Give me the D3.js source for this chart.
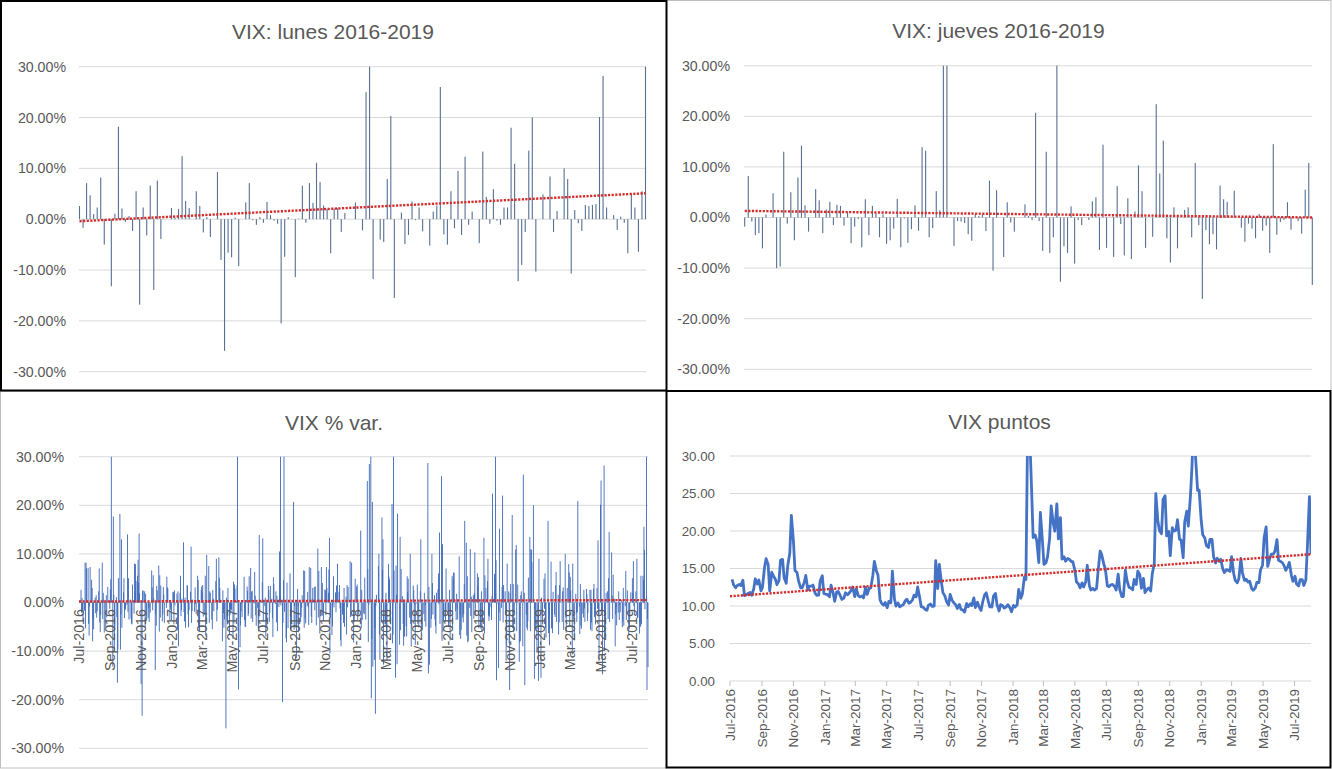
<!DOCTYPE html>
<html><head><meta charset="utf-8">
<script src="https://cdn.jsdelivr.net/npm/d3@7/dist/d3.min.js"></script>
<style>
body{margin:0;background:#fff}
svg{display:block}
text{font-family:"Liberation Sans",Arial,sans-serif;fill:#595959}
</style>
</head><body>
<svg id="c" width="1332" height="769"></svg>
<script>
// ---------------- DATA ----------------
// categories: weeks starting Monday 11-Jul-2016 (161 weeks, to Monday 05-Aug-2019)
const firstMonday = new Date(2016, 6, 11);
const nWeeks = 161;
const axisStart = new Date(2016, 6, 7);
const axisEnd = new Date(2019, 7, 8);

// daily % change of VIX, per weekday (percent units), index = week
const pctMon = [
 2.6,-1.7,7.1,4.7,1.0,2.3,8.2,-5.0,0.0,-13.2,
 1.1,18.2,2.1,-0.5,0.6,-2.3,5.5,-16.8,2.3,-3.2,
 6.6,-13.9,7.6,-3.9,0.0,0.0,2.2,0.3,2.0,12.4,
 3.6,2.2,0.0,5.5,2.6,-2.6,0.4,-3.5,0.0,9.3,
 -8.0,-25.9,-6.6,-7.5,0.3,-9.2,0.0,3.3,7.1,-0.2,
 -1.1,0.4,-0.7,3.4,0.8,-0.3,-0.9,-20.5,-7.4,0.4,
 0.0,-11.4,0.1,6.6,-0.7,7.1,3.2,11.1,7.3,2.7,
 2.0,-6.7,2.1,2.2,-2.5,1.2,0.0,0.0,3.3,0.0,-2.2,
 25.0,115.6,-11.8,0.0,-4.0,-4.5,7.9,20.3,-15.5,
 0.0,1.3,-4.9,-3.1,3.5,-0.2,2.3,-2.4,0.0,-5.2,
 1.5,2.7,26.0,-3.0,-5.0,5.5,-1.8,9.5,-3.1,12.3,
 -1.1,1.5,0.0,-4.7,13.3,4.4,-0.9,5.9,-0.3,-1.1,
 2.3,2.3,18.0,10.9,-12.2,-9.0,-2.5,13.5,20.0,-10.3,
 0.0,4.9,0.0,8.4,-2.5,1.6,0.0,10.0,7.9,-10.7,
 1.8,-0.8,-2.3,2.8,2.6,2.8,3.0,20.1,28.2,2.3,
 0.0,0.8,-2.1,0.5,-0.7,-6.7,5.0,2.3,-6.4,5.5,39.6];
const pctTue = [
 -2.1,8.2,-4.4,3.0,-2.2,7.0,-3.4,1.5,-1.3,17.7,
 -3.0,-9.7,5.0,14.0,-3.3,8.0,8.8,0.2,-5.2,-1.2,
 3.1,-2.4,-6.0,-2.5,-1.1,-3.6,2.1,1.8,5.5,-2.0,
 3.4,11.5,-1.9,4.6,3.3,5.5,7.5,-5.5,4.4,5.1,
 2.5,1.0,-2.6,4.3,3.5,-4.7,5.3,2.4,-3.3,6.3,
 -5.2,0.0,1.0,2.6,-3.3,2.3,10.5,-4.2,-8.2,6.0,
 20.7,-4.5,-4.0,-5.2,2.2,-2.9,-1.6,-3.1,-2.7,2.5,
 6.8,-4.9,-2.0,3.6,-1.8,-6.6,8.5,-8.2,3.7,14.8,
 -2.4,6.9,-19.7,-5.2,7.5,17.5,-4.5,5.3,-8.4,7.6,
 -8.7,-4.4,-7.0,10.0,2.6,3.7,13.0,2.0,28.7,-3.4,
 -3.5,6.0,-7.9,-4.0,-4.3,-5.3,-3.6,-6.7,-4.1,-6.8,
 11.0,-3.3,6.0,-5.4,-6.4,9.0,-3.6,5.1,-13.5,3.2,
 -2.5,-8.4,-5.3,11.8,-8.2,26.3,-5.2,-5.9,0.0,0.0,
 -15.5,-1.3,16.8,-5.3,-3.0,-6.6,-4.0,-3.1,6.2,8.0,
 -2.2,-6.5,-3.1,1.7,-5.6,3.8,-1.3,25.1,-10.0,-3.4,
 10.3,-9.0,2.3,-5.1,6.5,-5.4,1.9,0.5,-4.0,4.7,-18.0];
const pctWed = [
 0.9,-5.3,-6.8,-8.0,1.5,-4.1,2.0,-3.0,2.7,1.6,
 -16.5,-2.5,-3.2,-1.9,-4.3,2.1,4.1,-23.3,1.8,-4.0,
 -1.6,-4.8,5.6,3.2,5.3,-1.0,-4.5,-5.7,-2.8,-3.9,
 -2.5,-4.2,3.1,-5.1,2.0,-6.8,-4.2,2.6,9.0,3.0,
 -2.2,-3.7,-1.4,-4.3,46.4,-1.8,-3.6,-2.8,2.2,1.4,
 -6.0,4.2,-7.0,-4.0,-7.1,-4.1,1.4,4.6,4.1,-5.4,
 -5.6,2.8,-3.0,6.5,-1.0,-4.2,3.3,6.5,4.0,-2.6,
 13.3,0.5,3.5,-1.2,-4.2,3.6,-3.0,-4.0,-3.6,-5.3,
 5.1,-8.1,-7.5,-22.9,10.0,6.8,2.0,4.7,-6.6,1.6,
 13.5,-8.9,5.4,-4.4,-3.9,-4.4,-6.5,-3.9,-14.6,10.0,
 -4.9,-0.4,12.0,7.0,2.6,4.8,1.8,-2.5,-2.4,5.4,
 -2.8,2.0,3.4,2.3,5.6,-2.7,1.3,43.9,-2.1,22.0,
 -12.0,-18.0,3.8,-5.9,-7.9,0.0,-5.7,11.0,-15.7,-5.4,
 1.0,6.0,-6.3,-5.4,3.5,-4.1,2.3,-6.2,-4.8,-3.5,
 -4.0,3.8,2.6,-3.8,2.6,-3.0,12.8,-1.8,-2.9,5.0,
 1.4,-2.5,-3.6,-3.9,-3.6,-3.3,8.5,9.0,-5.0,15.6,-3.4];
const pctThu = [
 -1.8,8.2,-0.8,-3.5,-3.1,-6.1,0.6,0.0,4.8,-10.0,
 -9.7,13.0,-1.2,5.0,-4.5,7.9,14.2,2.4,-2.8,0.0,
 5.6,3.4,-3.1,1.6,3.1,-1.5,2.5,2.3,-1.6,1.0,
 -5.1,-1.8,-0.3,-5.9,3.6,-3.5,2.3,0.8,-3.9,0.6,
 -5.2,-4.5,-2.2,3.7,-5.9,-0.2,-5.0,-2.3,2.4,-2.6,
 13.9,13.2,-3.9,-2.1,5.2,1.4,44.4,32.5,0.0,-5.6,
 -0.7,-0.8,-1.1,-3.3,-4.6,0.7,0.3,0.6,-2.7,7.3,
 -10.5,5.4,0.0,-7.8,3.0,-1.0,-2.8,0.0,0.0,2.6,
 0.3,-0.5,20.7,-0.7,-6.6,13.0,-7.0,-3.9,30.7,-12.7,
 -5.7,-7.0,2.2,-9.1,-0.5,-1.5,0.0,-0.5,3.2,4.0,
 -6.4,14.4,-6.0,0.0,-7.8,6.2,-1.3,-7.5,3.8,-8.2,
 1.2,10.3,5.2,-6.0,0.0,-3.8,22.4,8.7,15.2,-4.1,
 -8.9,2.0,-6.1,0.0,1.5,2.0,-3.9,10.8,-1.5,-16.1,
 -2.5,-5.3,-3.3,-6.3,6.3,3.6,3.1,0.0,5.3,0.0,
 -2.0,-4.8,-1.2,-2.2,-4.1,0.7,-2.6,-1.6,-7.0,14.5,
 -3.4,-0.9,-0.5,3.0,-2.4,0.0,-0.7,-3.2,5.5,10.8,-13.3];
const pctFri = [
 -3.6,7.0,7.3,-5.5,-1.8,-2.6,-6.2,3.2,39.9,-5.7,
 5.0,-5.2,-1.5,-3.5,3.7,4.4,1.9,2.5,-3.8,-2.1,
 0.9,2.5,3.5,-4.2,2.9,-3.6,-0.6,-9.0,0.8,-5.2,
 -1.6,0.6,-2.4,-6.0,-2.9,9.8,2.0,-1.8,-1.5,0.0,
 -3.5,3.0,-1.5,2.9,-17.9,-3.0,-5.0,5.4,-4.0,-4.8,
 -2.8,-3.9,-5.3,3.4,3.8,-5.9,-0.6,-1.9,-5.3,-4.4,
 -5.2,-6.1,1.5,-4.3,7.3,3.0,-4.7,-6.4,-3.8,3.0,
 -3.2,-1.0,8.0,-9.0,-5.0,3.2,8.2,4.9,-2.5,-3.6,
 -3.5,28.5,-13.2,1.6,-11.8,-12.8,-11.9,-4.5,6.6,18.3,
 6.9,-7.0,4.9,-5.0,-8.7,-5.1,-5.7,-5.0,-12.8,-2.5,
 2.0,-4.4,-3.6,-1.7,-2.4,6.1,-3.5,-5.6,16.8,-7.9,
 -6.1,-2.6,-5.3,-4.0,3.0,-2.9,0.8,-16.0,-3.8,3.6,
 8.0,3.8,-2.0,3.7,2.3,-17.0,5.1,8.3,-5.4,9.0,
 -4.5,-7.2,-8.8,2.2,-4.0,8.5,-5.6,3.0,2.5,-7.8,
 20.9,-5.4,-4.0,0.0,-5.9,-4.5,-12.0,-14.8,2.0,-4.0,
 5.7,-4.7,-2.0,-4.8,2.5,2.1,-2.6,-3.1,-4.5,-1.4,null];

// VIX closing level, Mondays and Thursdays
const vixMon = [
 13.54,12.44,12.87,13.44,11.50,11.81,12.27,12.94,12.02,15.16,
 15.53,14.50,13.57,13.38,16.21,13.02,17.06,18.71,14.48,12.42,
 13.15,12.14,12.64,11.71,11.44,14.04,11.56,11.23,11.77,11.88,
 11.37,11.07,11.49,12.09,11.24,11.35,11.34,12.50,12.38,14.05,
 14.66,10.84,10.11,9.77,10.42,10.93,10.41,10.07,10.70,10.37,
 10.83,11.22,11.11,9.82,9.43,10.26,10.00,12.33,13.19,11.32,
 10.13,10.73,10.15,10.21,9.45,10.33,10.31,11.07,10.50,9.40,
 11.50,10.65,9.87,11.68,9.34,10.03,9.90,9.77,10.08,10.16,
 11.03,13.84,37.32,25.61,19.46,15.80,18.73,15.78,19.02,21.03,
 23.62,21.77,16.56,16.34,15.93,14.75,12.93,13.08,13.22,12.74,
 12.35,12.31,17.33,15.60,12.69,12.83,12.62,14.26,11.27,14.78,
 12.49,12.16,12.86,14.16,13.68,12.20,12.00,15.69,21.30,19.64,
 24.70,19.96,20.45,20.10,18.90,16.44,22.64,24.52,36.07,25.42,
 21.40,19.07,17.80,18.87,15.73,15.97,14.91,14.85,14.63,14.33,
 13.10,16.33,13.40,13.18,12.32,12.42,13.11,15.44,20.55,16.31,
 16.92,18.86,15.94,15.35,15.26,14.06,13.96,12.68,13.53,13.48,24.59];
const vixThu = [
 12.82,12.74,12.72,11.39,11.68,11.43,13.63,13.48,12.51,16.30,
 12.02,14.02,12.84,16.12,13.75,15.36,22.08,14.74,13.35,12.43,
 14.07,12.64,12.79,11.43,13.37,11.67,11.54,12.78,10.63,11.93,
 10.88,11.76,11.71,12.54,12.30,11.21,11.07,11.54,12.39,15.96,
 14.15,10.36,10.46,10.60,14.66,9.99,9.89,10.16,10.90,10.48,
 11.44,12.54,9.90,9.58,10.11,9.95,16.04,15.55,11.78,10.59,
 11.55,10.44,9.67,9.55,9.19,9.91,10.05,9.80,9.93,10.50,
 11.76,9.88,11.28,10.16,10.18,9.72,10.18,9.22,9.88,12.22,
 11.58,13.54,33.46,19.13,18.72,22.47,15.55,16.59,23.34,19.97,
 18.94,16.24,15.96,16.24,15.90,13.23,12.42,12.53,15.43,12.13,
 12.12,14.64,16.85,14.97,12.58,12.87,12.14,12.19,11.27,13.45,
 12.41,13.53,14.65,12.37,11.80,12.41,14.22,24.98,20.06,24.22,
 19.34,16.72,19.98,21.52,18.79,21.19,20.65,28.38,29.96,25.45,
 19.50,18.06,18.89,16.57,16.37,16.22,14.46,14.78,16.59,13.41,
 13.63,14.43,13.58,13.30,12.09,13.14,14.80,19.10,15.29,16.92,
 17.30,16.09,15.82,14.75,15.82,13.28,12.93,13.53,12.74,17.87,16.91];

// linear trendline end values
const trendLunes = [-0.4, 5.1];
const trendJueves = [1.3, 0.0];
const trendVar = [0.2, 0.5];
const trendPuntos = [11.3, 16.9];

// axis ticks
const pctTicks = [-30, -20, -10, 0, 10, 20, 30];
const ptsTicks = [0, 5, 10, 15, 20, 25, 30];
const titles = ["VIX: lunes 2016-2019", "VIX: jueves 2016-2019", "VIX % var.", "VIX puntos"];

// ---------------- DRAW ----------------
const svg = d3.select("#c");
const mondays = d3.range(nWeeks).map(w => d3.timeDay.offset(firstMonday, 7 * w));
const dateTicks = d3.range(19).map(k => d3.timeMonth.offset(axisStart, 2 * k));
const fmtDate = d3.timeFormat("%b-%Y");
const GRID = "#D9D9D9", TREND = "#D52B2B";

// panel frames
svg.append("rect").attr("x", 666.5).attr("y", 0.5).attr("width", 664.5).attr("height", 390)
  .attr("fill", "none").attr("stroke", "#BFBFBF");
svg.append("rect").attr("x", 0.5).attr("y", 391.5).attr("width", 666).attr("height", 376.5)
  .attr("fill", "none").attr("stroke", "#BFBFBF");

function yGrid(y, ticks, x0, x1, lx, fmt, fs) {
  const g = svg.append("g");
  g.selectAll("line").data(ticks).join("line")
    .attr("x1", x0).attr("x2", x1).attr("y1", d => y(d)).attr("y2", d => y(d))
    .attr("stroke", GRID).attr("stroke-width", 1);
  g.selectAll("text").data(ticks).join("text")
    .attr("x", lx).attr("y", d => y(d)).attr("dy", "0.35em")
    .attr("text-anchor", "end").attr("font-size", fs).text(fmt);
}
const pctFmt = d => d.toFixed(2) + "%";

function title(txt, cx, by) {
  svg.append("text").attr("x", cx).attr("y", by).attr("text-anchor", "middle")
    .attr("font-size", 21).text(txt);
}

function barsBand(vals, x, y, w, color) {
  svg.append("g").selectAll("rect").data(vals).join("rect")
    .attr("x", (d, i) => x(i) - w / 2)
    .attr("y", d => Math.min(y(d), y(0)))
    .attr("width", w)
    .attr("height", d => Math.abs(y(d) - y(0)))
    .attr("fill", color);
}

function trend(x0, x1, v, y) {
  svg.append("line").attr("x1", x0).attr("x2", x1)
    .attr("y1", y(v[0])).attr("y2", y(v[1]))
    .attr("stroke", TREND).attr("stroke-width", 2.4)
    .attr("stroke-dasharray", "2.2 1.4");
}

// ---- Panel 1: lunes
{
  const y = d3.scaleLinear().domain([-30, 30]).range([371.7, 66.7]).clamp(true);
  const x = d3.scalePoint().domain(d3.range(nWeeks)).range([79.5, 645.5]);
  yGrid(y, pctTicks, 79, 646, 66, pctFmt, 14.2);
  barsBand(pctMon, x, y, 1.1, "#587092");
  trend(x(0), x(nWeeks - 1), trendLunes, y);
  title(titles[0], 333, 38.5);
}
// ---- Panel 2: jueves
{
  const y = d3.scaleLinear().domain([-30, 30]).range([369.3, 65.7]).clamp(true);
  const x = d3.scalePoint().domain(d3.range(nWeeks)).range([744.7, 1312.3]);
  yGrid(y, pctTicks, 744, 1312, 730, pctFmt, 14.2);
  barsBand(pctThu, x, y, 1.1, "#587092");
  trend(x(0), x(nWeeks - 1), trendJueves, y);
  title(titles[1], 998.5, 37.5);
}
// ---- Panel 3: VIX % var (all days)
{
  const daily = [];
  const days = [pctMon, pctTue, pctWed, pctThu, pctFri];
  for (let w = 0; w < nWeeks; w++) {
    days.forEach((arr, i) => {
      if (arr[w] != null) daily.push({ date: d3.timeDay.offset(mondays[w], i), v: arr[w] });
    });
  }
  const y = d3.scaleLinear().domain([-30, 30]).range([748.3, 456.7]).clamp(true);
  const x = d3.scaleTime().domain([axisStart, axisEnd]).range([79, 648]);
  yGrid(y, pctTicks, 79, 648, 64, pctFmt, 14.2);
  svg.append("g").selectAll("rect").data(daily).join("rect")
    .attr("x", d => x(d.date) - 0.45)
    .attr("y", d => Math.min(y(d.v), y(0)))
    .attr("width", 0.9)
    .attr("height", d => Math.abs(y(d.v) - y(0)))
    .attr("fill", "#3E69B8");
  trend(x(axisStart), x(axisEnd), trendVar, y);
  svg.append("g").selectAll("text").data(dateTicks).join("text")
    .attr("transform", d => `translate(${x(d)},609) rotate(-90)`)
    .attr("dy", "0.35em").attr("text-anchor", "end").attr("font-size", 14.3)
    .text(fmtDate);
  title(titles[2], 334, 429.5);
}
// ---- Panel 4: VIX puntos
{
  const pts = [];
  for (let w = 0; w < nWeeks; w++) {
    pts.push({ date: mondays[w], v: vixMon[w] });
    pts.push({ date: d3.timeDay.offset(mondays[w], 3), v: vixThu[w] });
  }
  const y = d3.scaleLinear().domain([0, 30]).range([681, 456]);
  const x = d3.scaleTime().domain([axisStart, axisEnd]).range([730, 1311]);
  yGrid(y, ptsTicks, 730, 1311, 715, d => d.toFixed(2), 13.3);
  svg.append("defs").append("clipPath").attr("id", "clip4")
    .append("rect").attr("x", 730).attr("y", 456).attr("width", 581).attr("height", 225);
  svg.append("g").selectAll("line").data(dateTicks).join("line")
    .attr("x1", d => x(d)).attr("x2", d => x(d)).attr("y1", 681).attr("y2", 686)
    .attr("stroke", "#BFBFBF");
  svg.append("path").datum(pts)
    .attr("clip-path", "url(#clip4)")
    .attr("fill", "none").attr("stroke", "#4472C4").attr("stroke-width", 2.8)
    .attr("stroke-linejoin", "round")
    .attr("d", d3.line().x(d => x(d.date)).y(d => y(d.v)));
  svg.append("line").attr("x1", x(axisStart)).attr("x2", x(axisEnd))
    .attr("y1", y(trendPuntos[0])).attr("y2", y(trendPuntos[1]))
    .attr("stroke", TREND).attr("stroke-width", 2.4).attr("stroke-dasharray", "2.2 1.4");
  svg.append("g").selectAll("text").data(dateTicks).join("text")
    .attr("transform", d => `translate(${x(d)},689) rotate(-90)`)
    .attr("dy", "0.35em").attr("text-anchor", "end").attr("font-size", 13.5)
    .text(fmtDate);
  title(titles[3], 999.5, 428.5);
}

// black frames on panels 1 and 4
svg.append("rect").attr("x", 1).attr("y", 1).attr("width", 665.5).attr("height", 389.5)
  .attr("fill", "none").attr("stroke", "#000").attr("stroke-width", 2);
svg.append("rect").attr("x", 666.5).attr("y", 391).attr("width", 664).attr("height", 376.5)
  .attr("fill", "none").attr("stroke", "#000").attr("stroke-width", 2);
</script>
</body></html>
